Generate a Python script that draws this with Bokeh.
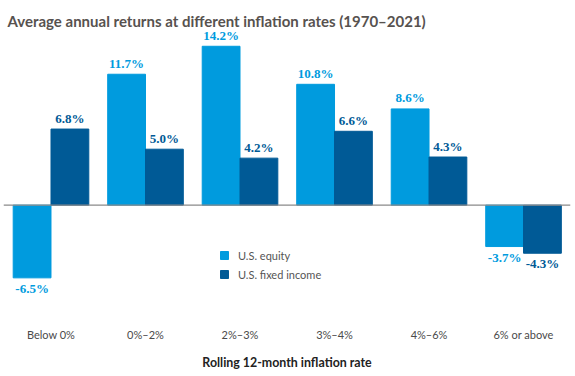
from bokeh.plotting import figure
from bokeh.models import (ColumnDataSource, Range1d, Span, Legend, LegendItem,
                          FixedTicker, LabelSet)
from bokeh.transform import dodge
from bokeh.embed import file_html
from bokeh.resources import INLINE

title_text = "Average annual returns at different inflation rates (1970\u20132021)"
categories = ["Below 0%", "0%\u20132%", "2%\u20133%", "3%\u20134%", "4%\u20136%", "6% or above"]
equity = [-6.5, 11.7, 14.2, 10.8, 8.6, -3.7]
fixed_income = [6.8, 5.0, 4.2, 6.6, 4.3, -4.3]
series_names = ["U.S. equity", "U.S. fixed income"]

EQ_COLOR = "#009BDE"
FI_COLOR = "#005A96"
FONT = "Lato"

xs = list(range(len(categories)))
src = ColumnDataSource(dict(x=xs, equity=equity, fixed=fixed_income))

p = figure(width=572, height=372, output_backend="svg", toolbar_location=None,
           x_range=Range1d(-0.5026, 5.497), y_range=Range1d(-9.06, 15.52),
           min_border_left=3, min_border_right=2, min_border_top=31)
p.title.text = title_text
p.title.text_font = FONT
p.title.text_font_size = "15px"
p.title.text_font_style = "bold"
p.title.text_color = "#57524f"
p.title.align = "left"
p.title.offset = 4
p.title.standoff = 0
p.title.vertical_align = "top"

p.outline_line_color = None
p.xgrid.visible = False
p.ygrid.visible = False
p.yaxis.visible = False

xa = p.xaxis[0]
xa.ticker = FixedTicker(ticks=xs)
xa.major_label_overrides = {i: c for i, c in zip(xs, categories)}
xa.axis_line_color = None
xa.major_tick_line_color = None
xa.minor_tick_line_color = None
xa.major_tick_in = 0
xa.major_tick_out = 0
xa.major_label_standoff = 21
xa.major_label_text_font = FONT
xa.major_label_text_font_size = "11px"
xa.major_label_text_color = "#4a4a4a"
xa.axis_label = "Rolling 12-month inflation rate"
xa.axis_label_text_font = FONT
xa.axis_label_text_font_size = "12.4px"
xa.axis_label_text_font_style = "bold"
xa.axis_label_text_color = "#222222"
xa.axis_label_standoff = 11

r_eq = p.vbar(x=dodge("x", -0.2, range=p.x_range), top="equity", bottom=0, width=0.4,
              source=src, fill_color=EQ_COLOR, line_color=EQ_COLOR)
r_fi = p.vbar(x=dodge("x", 0.2, range=p.x_range), top="fixed", bottom=0, width=0.4,
              source=src, fill_color=FI_COLOR, line_color=FI_COLOR)

p.add_layout(Span(location=0, dimension="width", line_color="#8a8a8a", line_width=1.2))

# value labels
for vals, off, color in ((equity, -0.2, EQ_COLOR), (fixed_income, 0.2, FI_COLOR)):
    pos = [(x + off, v) for x, v in zip(xs, vals) if v >= 0]
    neg = [(x + off, v) for x, v in zip(xs, vals) if v < 0]
    for group, baseline, yoff in ((pos, "bottom", 3.5), (neg, "top", -3)):
        if not group:
            continue
        ls_src = ColumnDataSource(dict(x=[a for a, _ in group], y=[b for _, b in group],
                                       t=[(f"{b:.1f}%" if b >= 0 else f"-{abs(b):.1f}%") for _, b in group]))
        p.add_layout(LabelSet(x="x", y="y", text="t", source=ls_src,
                              text_align="center", text_baseline=baseline, y_offset=yoff,
                              text_font=FONT, text_font_size="13px", text_font_style="bold",
                              text_color=color))

legend = Legend(items=[LegendItem(label=series_names[0], renderers=[r_eq]),
                       LegendItem(label=series_names[1], renderers=[r_fi])],
                location=(216, 22.5), orientation="vertical",
                padding=0, margin=0, spacing=0, border_line_color=None,
                background_fill_alpha=0, glyph_width=10, glyph_height=10,
                label_height=19, label_standoff=9,
                label_text_font=FONT, label_text_font_size="11px",
                label_text_color="#555555")
p.add_layout(legend)

open("out.html", "w").write(file_html(p, INLINE))
